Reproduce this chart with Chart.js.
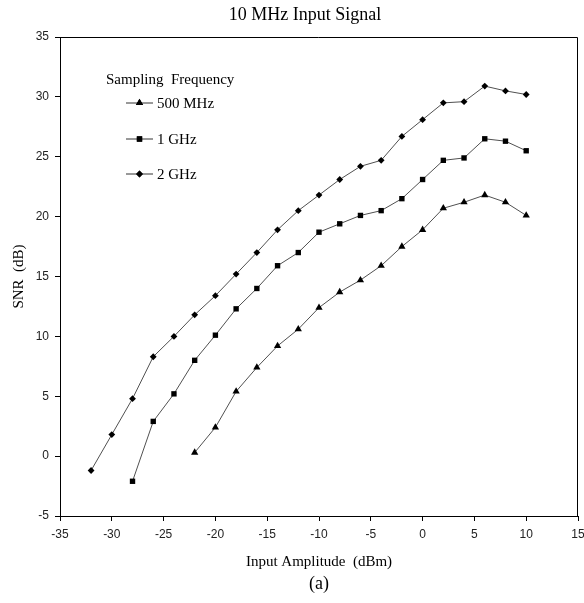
<!DOCTYPE html>
<html>
<head>
<meta charset="utf-8">
<script src="https://cdn.jsdelivr.net/npm/chart.js@4"></script>
<style>
  html, body { margin: 0; padding: 0; background: #fff; }
  #wrap { width: 584px; height: 603px; }
</style>
</head>
<body>
<div id="wrap"><canvas id="chart" width="584" height="603"></canvas></div>
<script>
// input amplitude (dBm) for each series
const amp500 = [-22, -20, -18, -16, -14, -12, -10, -8, -6, -4, -2, 0, 2, 4, 6, 8, 10]
const amp1g = [-28, -26, -24, -22, -20, -18, -16, -14, -12, -10, -8, -6, -4, -2, 0, 2, 4, 6, 8, 10]
const amp2g = [-32, -30, -28, -26, -24, -22, -20, -18, -16, -14, -12, -10, -8, -6, -4, -2, 0, 2, 4, 6, 8, 10]

// SNR (dB)
const snr500 = [0.3, 2.4, 5.4, 7.4, 9.2, 10.6, 12.4, 13.7, 14.7, 15.9, 17.5, 18.9, 20.7, 21.2, 21.8, 21.2, 20.1]
const snr1g = [-2.1, 2.9, 5.2, 8.0, 10.1, 12.3, 14.0, 15.9, 17.0, 18.7, 19.4, 20.1, 20.5, 21.5, 23.1, 24.7, 24.9, 26.5, 26.3, 25.5]
const snr2g = [-1.2, 1.8, 4.8, 8.3, 10.0, 11.8, 13.4, 15.2, 17.0, 18.9, 20.5, 21.8, 23.1, 24.2, 24.7, 26.7, 28.1, 29.5, 29.6, 30.9, 30.5, 30.2]

const seriesNames = ['500 MHz', '1 GHz', '2 GHz']
const markers = ['triangle', 'rect', 'rectRot']
const legendTitle = 'Sampling  Frequency'
const chartTitle = '10 MHz Input Signal'

const serif = '"Liberation Serif", "Times New Roman", serif'
const sans = '"Liberation Sans", Arial, sans-serif'

function toPoints(xs, ys){
    return xs.map((x, i) => ({ x: x, y: ys[i] }))
}

// title, box round the plot and the legend in the top left corner
const framePlugin = {
    id: 'frame',
    afterDraw(chart){
        const { ctx, chartArea: a } = chart
        ctx.save()
        ctx.strokeStyle = '#000'
        ctx.lineWidth = 1
        ctx.beginPath()
        ctx.moveTo(a.left, a.top + 0.5)
        ctx.lineTo(a.right - 0.5, a.top + 0.5)
        ctx.lineTo(a.right - 0.5, a.bottom)
        ctx.stroke()

        ctx.fillStyle = '#000'
        ctx.textBaseline = 'middle'
        ctx.textAlign = 'center'
        ctx.font = '18px ' + serif
        ctx.fillText(chartTitle, 305, 15)

        // legend
        ctx.textAlign = 'left'
        ctx.font = '15px ' + serif
        ctx.fillText(legendTitle, 106, 80)
        const rows = [103, 139, 174]
        chart.data.datasets.forEach((ds, i) => {
            const y = rows[i]
            ctx.strokeStyle = '#333'
            ctx.beginPath()
            ctx.moveTo(126, y)
            ctx.lineTo(153, y)
            ctx.stroke()
            Chart.helpers.drawPoint(ctx, { pointStyle: ds.pointStyle, radius: ds.pointRadius, rotation: 0 }, 139.5, y)
            ctx.fillStyle = '#000'
            ctx.fill()
            ctx.fillText(ds.label, 157, y + 1)
        })
        ctx.restore()
    }
}

function createChart(){
    const ctx = document.getElementById('chart')
    const radii = [4.2, 3.8, 3.4]
    const sets = [
        toPoints(amp500, snr500),
        toPoints(amp1g, snr1g),
        toPoints(amp2g, snr2g)
    ]

    new Chart(ctx, {
      type: 'line',
      data: {
        datasets: sets.map((pts, i) => ({
            label: seriesNames[i],
            data: pts,
            borderColor: '#505050',
            borderWidth: 1,
            pointStyle: markers[i],
            pointRadius: radii[i],
            pointBackgroundColor: '#000',
            pointBorderColor: '#000',
            pointBorderWidth: 0,
            tension: 0
        }))
      },
      options: {
        responsive: false,
        animation: false,
        layout: { padding: { left: 0, top: 37, right: 6, bottom: 0 } },
        plugins: {
            legend: { display: false },
            tooltip: { enabled: false },
            title: { display: false },
            subtitle: {
                display: true,
                position: 'bottom',
                text: '(a)',
                fullSize: false,
                color: '#000',
                font: { family: serif, size: 18, weight: 'normal', lineHeight: 1.2 },
                padding: { top: 0, bottom: 8 }
            }
        },
        scales: {
            x: {
                type: 'linear',
                min: -35,
                max: 15,
                ticks: {
                    stepSize: 5,
                    color: '#222',
                    padding: 6,
                    font: { family: sans, size: 12 }
                },
                grid: { drawOnChartArea: false, tickLength: 5, color: '#000' },
                border: { color: '#000' },
                title: {
                    display: true,
                    text: 'Input Amplitude  (dBm)',
                    color: '#000',
                    font: { family: serif, size: 15 },
                    padding: { top: 0, bottom: 2.4 }
                },
                afterFit(scale){
                    scale.height = 57.4
                    scale.paddingLeft = 0
                    scale.paddingRight = 0
                }
            },
            y: {
                min: -5,
                max: 35,
                ticks: {
                    stepSize: 5,
                    color: '#222',
                    padding: 6,
                    font: { family: sans, size: 12 }
                },
                grid: { drawOnChartArea: false, tickLength: 5, color: '#000' },
                border: { color: '#000' },
                title: {
                    display: true,
                    text: 'SNR  (dB)',
                    color: '#000',
                    font: { family: serif, size: 15 },
                    padding: { top: 10, bottom: 0 }
                },
                afterFit(scale){ scale.width = 60 }
            }
        }
      },
      plugins: [framePlugin]
    })
}

createChart()
</script>
</body>
</html>
